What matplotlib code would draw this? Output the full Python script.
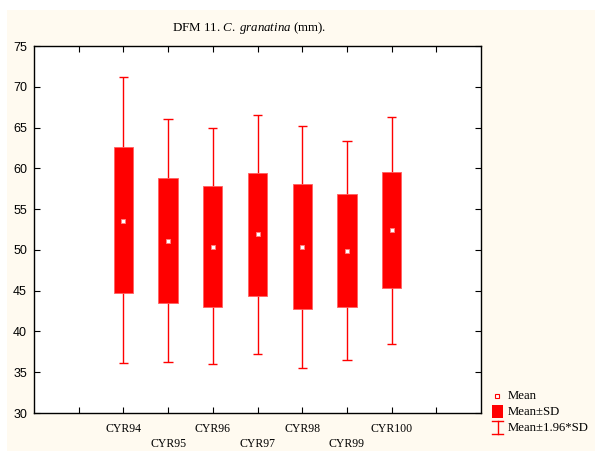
import matplotlib

matplotlib.use("Agg")
import matplotlib.pyplot as plt
from matplotlib.lines import Line2D
from matplotlib.patches import Rectangle
import numpy as np

GROUPS = ["CYR94", "CYR95", "CYR96", "CYR97", "CYR98", "CYR99", "CYR100"]
MEANS = [53.6, 51.1, 50.4, 51.9, 50.4, 49.9, 52.4]
SD_LO = [44.7, 43.5, 43.0, 44.4, 42.8, 43.0, 45.3]
SD_HI = [62.65, 58.8, 57.8, 59.4, 58.1, 56.9, 59.55]
CI_LO = [36.1, 36.2, 36.0, 37.2, 35.5, 36.5, 38.5]
CI_HI = [71.2, 66.05, 64.9, 66.6, 65.2, 63.4, 66.3]
Y_TICKS = [30, 35, 40, 45, 50, 55, 60, 65, 70, 75]
LEGEND_LABELS = ["Mean", "Mean\u00b1SD", "Mean\u00b11.96*SD"]

RED = "#ff0000"
CREAM = "#fffaf0"
SERIF = "Liberation Serif"
SANS = "Liberation Sans"

plt.rcParams["mathtext.fontset"] = "custom"
plt.rcParams["mathtext.rm"] = SERIF
plt.rcParams["mathtext.it"] = SERIF + ":italic"

W, H = 595, 451
fig = plt.figure(figsize=(W / 100, H / 100), dpi=100)
fig.patch.set_facecolor("white")
fig.add_artist(Rectangle((7 / W, 0), 1 - 7 / W, 1 - 10 / H, transform=fig.transFigure,
                         facecolor=CREAM, edgecolor="none", zorder=0))

ax = fig.add_axes([34 / W, 1 - 413 / H, (481 - 34) / W, (413 - 46) / H])
ax.set_facecolor("white")

x = np.arange(2, 2 + len(GROUPS))
means = np.array(MEANS)
sd_lo = np.array(SD_LO)
sd_hi = np.array(SD_HI)

ax.vlines(x, CI_LO, CI_HI, color=RED, linewidth=1.0, zorder=2)
ax.hlines(CI_LO, x - 0.105, x + 0.105, color=RED, linewidth=1.0, zorder=2)
ax.hlines(CI_HI, x - 0.105, x + 0.105, color=RED, linewidth=1.0, zorder=2)
ax.bar(x, sd_hi - sd_lo, bottom=sd_lo, width=0.43, color=RED, edgecolor="#ff6060",
       linewidth=0.6, zorder=3)
ax.scatter(x, means, marker="s", s=10, facecolor="white", edgecolor="#ff8080",
           linewidths=0.6, zorder=4)

ax.set_xlim(0, 10)
ax.set_ylim(30, 75)
ax.set_yticks(Y_TICKS)
ax.set_yticklabels([str(v) for v in Y_TICKS], fontfamily=SANS, fontsize=9)
xt = np.arange(1, 10)
labels = [""] * len(xt)
for i, g in enumerate(GROUPS):
    labels[i + 1] = g if i % 2 == 0 else "\n" + g
ax.set_xticks(xt)
ax.set_xticklabels(labels, fontfamily=SERIF, fontsize=8.5, linespacing=1.35)
ax.tick_params(direction="in", length=4, width=0.8, top=True, right=True)
ax.tick_params(axis="x", pad=7)
ax.tick_params(axis="y", pad=5)
for s in ax.spines.values():
    s.set_linewidth(1.0)
    s.set_color("black")

fig.text(249 / W, 1 - 28 / H, "DFM 11. $\\mathit{C.\\ granatina}$ (mm).",
         ha="center", va="center", fontfamily=SERIF, fontsize=9.3)

# legend
fx = lambda px: px / W
fy = lambda py: 1 - py / H
fig.add_artist(Line2D([fx(497)], [fy(396)], marker="s", markersize=3.5, markerfacecolor="white",
                      markeredgecolor=RED, markeredgewidth=0.8, transform=fig.transFigure))
fig.add_artist(Rectangle((fx(492), fy(418)), 11 / W, 13 / H, transform=fig.transFigure,
                         facecolor=RED, edgecolor="none"))
fig.add_artist(Line2D([fx(497.5), fx(497.5)], [fy(421), fy(434)], color=RED, linewidth=1.0,
                      transform=fig.transFigure))
for yy in (421, 434):
    fig.add_artist(Line2D([fx(492), fx(503)], [fy(yy), fy(yy)], color=RED, linewidth=1.0,
                          transform=fig.transFigure))
for lab, yy in zip(LEGEND_LABELS, (396, 412, 428)):
    fig.text(fx(508), fy(yy), lab, ha="left", va="center", fontfamily=SERIF, fontsize=9.2)

fig.savefig("out.png", dpi=100)
